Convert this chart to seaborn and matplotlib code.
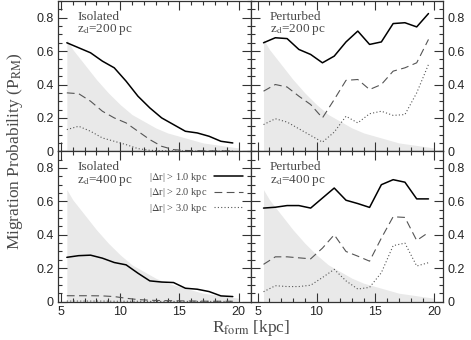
import numpy as np
import matplotlib
matplotlib.use('Agg')
import matplotlib.pyplot as plt
import seaborn as sns
from matplotlib.ticker import MultipleLocator, FuncFormatter

# radius bins (kpc)
r_form = [5.5, 6.5, 7.5, 8.5, 9.5, 10.5, 11.5, 12.5, 13.5, 14.5, 15.5, 16.5, 17.5, 18.5, 19.5]

# shaded reference curve
shade_r = [5.5, 6, 7, 8, 9, 10, 11, 12, 13, 14, 15, 16, 17, 18, 19, 20]
shade_p = [0.67, 0.61, 0.52, 0.43, 0.35, 0.28, 0.22, 0.18, 0.14, 0.11, 0.09, 0.07, 0.05, 0.04, 0.03, 0.02]

# Isolated, z_d = 200 pc
iso200_dr1 = [0.65, 0.62, 0.59, 0.54, 0.50, 0.42, 0.33, 0.26, 0.20, 0.16, 0.12, 0.11, 0.09, 0.06, 0.05]
iso200_dr2 = [0.35, 0.345, 0.30, 0.24, 0.20, 0.17, 0.12, 0.07, 0.03, 0.01, 0.005, 0.003, 0.002, 0.002, 0.002]
iso200_dr3 = [0.13, 0.15, 0.12, 0.08, 0.06, 0.04, 0.016, 0.006, 0.003, 0.002, 0.002, 0.001, 0.001, 0.001, 0.001]

# Perturbed, z_d = 200 pc
per200_dr1 = [0.65, 0.68, 0.675, 0.61, 0.58, 0.53, 0.57, 0.655, 0.72, 0.64, 0.655, 0.765, 0.77, 0.745, 0.825]
per200_dr2 = [0.36, 0.40, 0.385, 0.33, 0.28, 0.20, 0.31, 0.425, 0.43, 0.37, 0.40, 0.48, 0.50, 0.53, 0.67]
per200_dr3 = [0.16, 0.195, 0.175, 0.135, 0.095, 0.055, 0.115, 0.21, 0.17, 0.225, 0.24, 0.215, 0.22, 0.35, 0.52]

# Isolated, z_d = 400 pc
iso400_dr1 = [0.265, 0.275, 0.278, 0.26, 0.234, 0.22, 0.17, 0.124, 0.117, 0.114, 0.08, 0.074, 0.06, 0.034, 0.03]
iso400_dr2 = [0.035, 0.035, 0.035, 0.034, 0.03, 0.02, 0.012, 0.008, 0.006, 0.005, 0.004, 0.003, 0.002, 0.002, 0.002]
iso400_dr3 = [0.003, 0.003, 0.003, 0.003, 0.002, 0.002, 0.002, 0.001, 0.001, 0.001, 0.001, 0.001, 0.001, 0.001, 0.001]

# Perturbed, z_d = 400 pc
per400_dr1 = [0.56, 0.565, 0.575, 0.575, 0.56, 0.62, 0.68, 0.607, 0.587, 0.564, 0.70, 0.73, 0.715, 0.615, 0.615]
per400_dr2 = [0.223, 0.268, 0.268, 0.262, 0.256, 0.32, 0.40, 0.30, 0.272, 0.242, 0.38, 0.508, 0.504, 0.366, 0.414]
per400_dr3 = [0.059, 0.095, 0.09, 0.09, 0.098, 0.144, 0.193, 0.124, 0.075, 0.085, 0.173, 0.335, 0.35, 0.213, 0.233]

panel_titles = [["Isolated\nz$_{\\rm d}$=200 pc", "Perturbed\nz$_{\\rm d}$=200 pc"],
                ["Isolated\nz$_{\\rm d}$=400 pc", "Perturbed\nz$_{\\rm d}$=400 pc"]]
panel_data = [[(iso200_dr1, iso200_dr2, iso200_dr3), (per200_dr1, per200_dr2, per200_dr3)],
              [(iso400_dr1, iso400_dr2, iso400_dr3), (per400_dr1, per400_dr2, per400_dr3)]]
legend_labels = ["|$\\Delta$r| > 1.0 kpc", "|$\\Delta$r| > 2.0 kpc", "|$\\Delta$r| > 3.0 kpc"]

sns.set_style('ticks')
plt.rcParams['font.family'] = ['Liberation Sans', 'DejaVu Sans']
plt.rcParams['mathtext.fontset'] = 'stix'

serif = ['Liberation Serif', 'DejaVu Serif']
text_grey = '#4a4a4a'

fig, axes = plt.subplots(2, 2, figsize=(4.71, 3.40), dpi=100)
fig.subplots_adjust(left=0.123, right=0.941, top=0.997, bottom=0.113, wspace=0, hspace=0)

line_styles = [
    dict(color='black', linewidth=1.1),
    dict(color='#555555', linewidth=0.8, dashes=(7, 4)),
    dict(color='#555555', linewidth=0.8, dashes=(1, 2)),
]

xlims = [(4.75, 21.0), (4.4, 20.75)]

for i in range(2):
    for j in range(2):
        ax = axes[i, j]
        ax.fill_between(shade_r, shade_p, 0, color='#e9e9e9', linewidth=0, zorder=0)
        for k, series in enumerate(panel_data[i][j]):
            st = line_styles[k]
            lbl = legend_labels[k] if (i == 1 and j == 0) else None
            l = sns.lineplot(x=r_form, y=series, ax=ax, color=st['color'],
                             linewidth=st['linewidth'], label=lbl, legend=False)
            if 'dashes' in st:
                l.lines[-1].set_dashes(st['dashes'])

        ax.set_xlim(*xlims[j])
        ax.set_ylim(0, 0.9)
        ax.xaxis.set_major_locator(MultipleLocator(5))
        ax.xaxis.set_minor_locator(MultipleLocator(1))
        ax.yaxis.set_major_locator(MultipleLocator(0.2))
        ax.yaxis.set_minor_locator(MultipleLocator(0.05))
        ax.yaxis.set_major_formatter(FuncFormatter(lambda v, p: '0' if abs(v) < 1e-9 else f'{v:.1f}'))
        ax.tick_params(which='both', direction='in', top=True, right=True, bottom=True, left=True,
                       color='#333333', width=0.8, labelsize=9, pad=3)
        ax.tick_params(which='major', length=6.5)
        ax.tick_params(which='minor', length=3)
        for s in ax.spines.values():
            s.set_color('#333333')
            s.set_linewidth(0.9)

        if i == 0:
            ax.tick_params(labelbottom=False)
        if j == 1:
            ax.tick_params(labelleft=False, labelright=True)
        ax.set_xlabel('')
        ax.set_ylabel('')

        ax.text(0.10, 0.935, panel_titles[i][j], transform=ax.transAxes, ha='left', va='top',
                fontsize=9.5, family=serif, color=text_grey, linespacing=0.95)

leg = axes[1, 0].legend(loc='upper right', bbox_to_anchor=(0.97, 0.885), frameon=False,
                        markerfirst=False, handlelength=2.8, handletextpad=0.6,
                        labelspacing=0.25, borderaxespad=0.1, borderpad=0.1,
                        prop={'family': serif, 'size': 7.5})
for t in leg.get_texts():
    t.set_color(text_grey)

fig.text(0.032, 0.556, 'Migration Probability (P$_{\\rm RM}$)', rotation=90, ha='center', va='center',
         fontsize=12.5, family=serif, color=text_grey)
fig.text(0.532, 0.035, 'R$_{\\rm form}$ [kpc]', ha='center', va='center',
         fontsize=12.5, family=serif, color=text_grey)

plt.savefig('out.png', dpi=100)
plt.close('all')
